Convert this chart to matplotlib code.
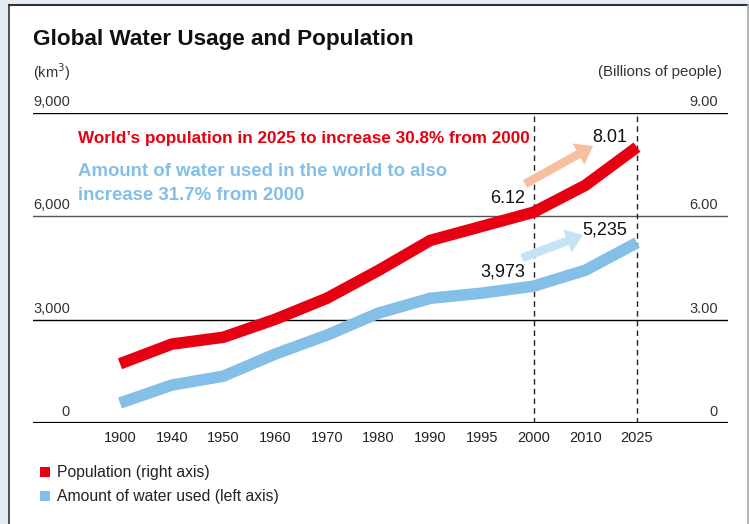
import matplotlib
matplotlib.use("Agg")
import matplotlib.pyplot as plt
from matplotlib.patches import Rectangle, FancyArrowPatch
from matplotlib.lines import Line2D

plt.rcParams['font.family'] = ['Liberation Sans', 'DejaVu Sans']

years = ["1900", "1940", "1950", "1960", "1970", "1980", "1990", "1995", "2000", "2010", "2025"]
population = [1.72, 2.29, 2.49, 3.01, 3.62, 4.43, 5.30, 5.71, 6.12, 6.90, 8.01]   # billions (right axis)
water = [580, 1100, 1360, 2000, 2550, 3190, 3620, 3770, 3973, 4435, 5235]           # km3 (left axis)
left_ticks = [0, 3000, 6000, 9000]
left_labels = ["0", "3,000", "6,000", "9,000"]
right_labels = ["0", "3.00", "6.00", "9.00"]

W, H = 749, 524
fig = plt.figure(figsize=(W / 100, H / 100), dpi=100)
fig.patch.set_facecolor("#e5ecf3")

def fx(px):
    return px / W

def fy(py):
    return 1 - py / H

# white panel with border
fig.patches.append(Rectangle((fx(9), 0), fx(748) - fx(9), fy(5), transform=fig.transFigure,
                             facecolor="white", edgecolor="none", zorder=-5))
fig.lines.append(Line2D([fx(9), fx(748)], [fy(5), fy(5)], transform=fig.transFigure, color="#333333", lw=1.5, zorder=-4))
fig.lines.append(Line2D([fx(9), fx(9)], [0, fy(5)], transform=fig.transFigure, color="#333333", lw=1.2, zorder=-4))
fig.lines.append(Line2D([fx(747.5), fx(747.5)], [0, fy(5)], transform=fig.transFigure, color="#aaaaaa", lw=1.2, zorder=-4))

ax = fig.add_axes([fx(33), fy(423), fx(728) - fx(33), fy(113) - fy(423)])
ax.set_facecolor("none")
x = list(range(len(years)))
px_per = (637 - 120) / 10
ax.set_xlim((33 - 120) / px_per, (728 - 120) / px_per)
ax.set_ylim(0, 9000)
for s in ax.spines.values():
    s.set_visible(False)
ax.set_yticks([])
ax.set_xticks(x)
ax.set_xticklabels(years, fontsize=10.5, color="#222222")
ax.tick_params(axis="x", length=0, pad=6)

# gridlines
grid_colors = {0: "black", 3000: "black", 6000: "#555555", 9000: "black"}
for v in left_ticks:
    ax.axhline(v, color=grid_colors[v], lw=1.6 if v == 0 else 1.0, zorder=1)

# dashed reference lines at 2000 and 2025
for i in (8, 10):
    ax.axvline(i, ymin=0, ymax=1, color="#222222", lw=1.0, ls=(0, (4, 3)), zorder=1)

# tick labels drawn above gridlines
for v, ll, rl in zip(left_ticks, left_labels, right_labels):
    ax.annotate(ll, xy=(0, v), xycoords=("axes fraction", "data"), xytext=(70 - 33, 4),
                textcoords="offset pixels", ha="right", va="bottom", fontsize=10.5, color="#333333")
    ax.annotate(rl, xy=(1, v), xycoords=("axes fraction", "data"), xytext=(-10, 4),
                textcoords="offset pixels", ha="right", va="bottom", fontsize=10.5, color="#333333")

ax2 = ax.twinx()
ax2.set_ylim(0, 9)
ax2.set_yticks([])
for s in ax2.spines.values():
    s.set_visible(False)

red = "#e60012"
blue = "#84bfe7"
ax.plot(x, water, color=blue, lw=8.3, solid_joinstyle="miter", solid_capstyle="butt", zorder=3)
ax2.plot(x, population, color=red, lw=8.3, solid_joinstyle="miter", solid_capstyle="butt", zorder=3)

# value labels
ax2.annotate("8.01", xy=(10, population[10]), xytext=(-27, 1), textcoords="offset pixels",
             ha="center", va="bottom", fontsize=13, color="#111111")
ax2.annotate("6.12", xy=(8, population[8]), xytext=(-8, 5), textcoords="offset pixels",
             ha="right", va="bottom", fontsize=13, color="#111111")
ax.annotate("5,235", xy=(10, water[10]), xytext=(-32, 4), textcoords="offset pixels",
            ha="center", va="bottom", fontsize=13, color="#111111")
ax.annotate("3,973", xy=(8, water[8]), xytext=(-8, 6), textcoords="offset pixels",
            ha="right", va="bottom", fontsize=13, color="#111111")

# arrows
for (x0, y0, x1, y1, c) in [(525, 184, 593, 146, "#f6bfa0"), (522, 258, 583, 235, "#c6e2f5")]:
    arr = FancyArrowPatch((fx(x0), fy(y0)), (fx(x1), fy(y1)), transform=fig.transFigure,
                          arrowstyle="simple,head_length=1.2,head_width=1.75,tail_width=0.62",
                          mutation_scale=10, color=c, shrinkA=0, shrinkB=0, lw=0, zorder=2)
    fig.patches.append(arr)

# title and axis captions
fig.text(fx(33), fy(40), "Global Water Usage and Population", fontsize=16.2, fontweight="bold",
         ha="left", va="center", color="#111111")
fig.text(fx(33), fy(72), "(km$^3$)", fontsize=10.5, ha="left", va="center", color="#333333")
fig.text(fx(722), fy(72), "(Billions of people)", fontsize=10.8, ha="right", va="center", color="#333333")

# headline annotations
fig.text(fx(78), fy(139), "World\u2019s population in 2025 to increase 30.8% from 2000", fontsize=12.3,
         fontweight="bold", ha="left", va="center", color=red)
fig.text(fx(78), fy(171), "Amount of water used in the world to also", fontsize=13.4,
         fontweight="bold", ha="left", va="center", color=blue)
fig.text(fx(78), fy(195), "increase 31.7% from 2000", fontsize=13.4,
         fontweight="bold", ha="left", va="center", color=blue)

# legend
fig.patches.append(Rectangle((fx(40), fy(477)), fx(10), 10 / H, transform=fig.transFigure,
                             facecolor=red, edgecolor="none"))
fig.text(fx(57), fy(472), "Population (right axis)", fontsize=11.3, ha="left", va="center", color="#222222")
fig.patches.append(Rectangle((fx(40), fy(501)), fx(10), 10 / H, transform=fig.transFigure,
                             facecolor=blue, edgecolor="none"))
fig.text(fx(57), fy(496), "Amount of water used (left axis)", fontsize=11.3, ha="left", va="center", color="#222222")

fig.savefig("out.png", dpi=100, facecolor=fig.get_facecolor())
